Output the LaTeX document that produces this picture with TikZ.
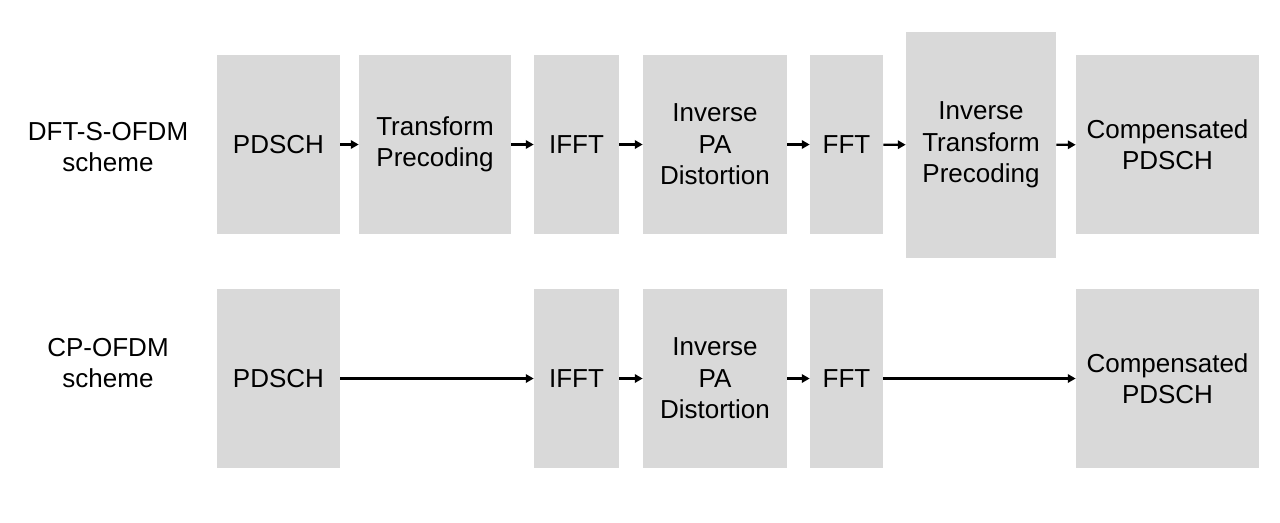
\documentclass[tikz,border=0pt]{standalone}
\usepackage{fontspec}
\setmainfont{Liberation Sans}
\definecolor{blockgray}{RGB}{217,217,217}
\usetikzlibrary{arrows.meta,positioning}

\begin{document}
\begin{tikzpicture}[
  x=0.02cm,y=-0.02cm,
  block/.style={fill=blockgray,inner sep=0pt,minimum height=3.58cm,
    font=\fontsize{14.8}{17.9}\selectfont,align=center},
  scheme/.style={font=\fontsize{14.8}{17.9}\selectfont,align=center},
  flow/.style={-{Triangle[length=4.5pt,width=4.8pt]},line width=1.3pt}
]
  \useasboundingbox (0,0) rectangle (1280,522);
  % Row 1
  \node[scheme] (lab1) at (108,147) {DFT-S-OFDM\\scheme};
  \node[block,minimum width=2.46cm] (pdsch1) at (278.5,144.5) {PDSCH};
  \node[block,minimum width=3.04cm] (tp) at (435,144.5) {Transform\\Precoding};
  \node[block,minimum width=1.70cm] (ifft1) at (576.5,144.5) {IFFT};
  \node[block,minimum width=2.88cm] (ipa1) at (715,144.5) {Inverse\\PA\\Distortion};
  \node[block,minimum width=1.46cm] (fft1) at (846.5,144.5) {FFT};
  \node[block,minimum width=3.00cm,minimum height=4.52cm] (itp) at (981,145) {Inverse\\Transform\\Precoding};
  \node[block,minimum width=3.66cm] (comp1) at (1167.5,144.5) {Compensated\\PDSCH};
  \draw[flow] (pdsch1) -- (tp);
  \draw[flow] (tp) -- (ifft1);
  \draw[flow] (ifft1) -- (ipa1);
  \draw[flow] (ipa1) -- (fft1);
  \draw[flow] (fft1) -- (itp);
  \draw[flow] (itp) -- (comp1);
  % Row 2
  \node[scheme] (lab2) at (108,363) {CP-OFDM\\scheme};
  \node[block,minimum width=2.46cm] (pdsch2) at (278.5,378.5) {PDSCH};
  \node[block,minimum width=1.70cm] (ifft2) at (576.5,378.5) {IFFT};
  \node[block,minimum width=2.88cm] (ipa2) at (715,378.5) {Inverse\\PA\\Distortion};
  \node[block,minimum width=1.46cm] (fft2) at (846.5,378.5) {FFT};
  \node[block,minimum width=3.66cm] (comp2) at (1167.5,378.5) {Compensated\\PDSCH};
  \draw[flow] (pdsch2) -- (ifft2);
  \draw[flow] (ifft2) -- (ipa2);
  \draw[flow] (ipa2) -- (fft2);
  \draw[flow] (fft2) -- (comp2);
\end{tikzpicture}
\end{document}
